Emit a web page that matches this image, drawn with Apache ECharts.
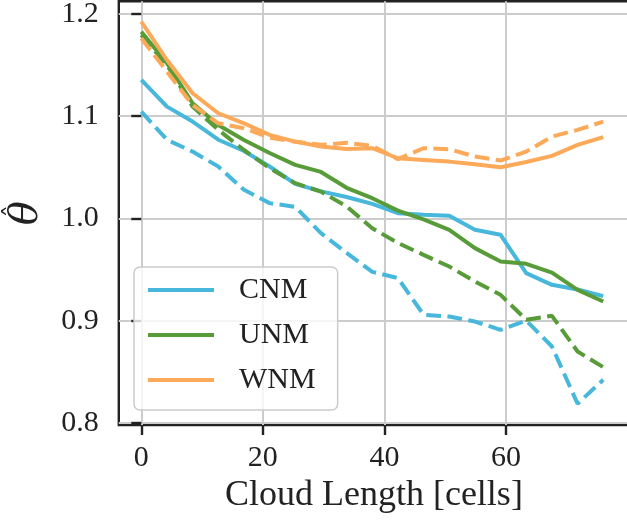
<!DOCTYPE html>
<html>
<head>
<meta charset="utf-8">
<script src="https://cdn.jsdelivr.net/npm/echarts@6/dist/echarts.min.js"></script>
<style>
  html, body { margin: 0; padding: 0; background: #fff; }
  #chart { width: 627px; height: 523px; }
</style>
</head>
<body>
<div id="chart"></div>
<script>
// cloud length sample points (cells)
const cloudLength = [0, 4.22, 8.44, 12.67, 16.89, 21.11, 25.33, 29.56, 33.78, 38.0,
  42.22, 46.44, 50.67, 54.89, 59.11, 63.33, 67.56, 71.78, 76.0];

// solid lines
const cnmSolid = [1.1355, 1.1094, 1.0948, 1.077, 1.066, 1.0508, 1.0338, 1.0265, 1.021, 1.0143,
  1.0052, 1.0036, 1.0026, 0.9889, 0.984, 0.9465, 0.9351, 0.9305, 0.924];
const unmSolid = [1.1827, 1.1518, 1.1127, 1.0915, 1.0768, 1.064, 1.0524, 1.0455, 1.030, 1.0198,
  1.0077, 0.9991, 0.9889, 0.971, 0.958, 0.9556, 0.9471, 0.9302, 0.9188];
const wnmSolid = [1.1925, 1.155, 1.1225, 1.1029, 1.0931, 1.0817, 1.0752, 1.0703, 1.068, 1.0687,
  1.0589, 1.0573, 1.0556, 1.053, 1.0501, 1.0552, 1.0612, 1.072, 1.0795];

// dashed lines
const cnmDashed = [1.1045, 1.077, 1.0654, 1.0508, 1.028, 1.015, 1.0113, 0.9856, 0.9664, 0.9478,
  0.9417, 0.9058, 0.9041, 0.8992, 0.8911, 0.9002, 0.8748, 0.8188, 0.8422];
const unmDashed = [1.1795, 1.150, 1.1094, 1.0866, 1.067, 1.0492, 1.0345, 1.0263, 1.0117, 0.9905,
  0.976, 0.9644, 0.953, 0.9383, 0.9253, 0.9009, 0.9048, 0.8699, 0.8546];
const wnmDashed = [1.1762, 1.1436, 1.111, 1.0931, 1.0883, 1.079, 1.075, 1.072, 1.074, 1.071,
  1.058, 1.0687, 1.0677, 1.0606, 1.0566, 1.0654, 1.0801, 1.0866, 1.0947];

const xTicks = [0, 20, 40, 60];
const yTicks = [0.8, 0.9, 1.0, 1.1, 1.2];
const legendNames = ['CNM', 'UNM', 'WNM'];

const colors = { CNM: '#47b7dc', UNM: '#589c3a', WNM: '#fca95a' };

const chart = echarts.init(document.getElementById('chart'));

function pairs(ys) {
  return cloudLength.map((x, i) => [x, ys[i]]);
}

function makeSeries(name, ys, color, dashed) {
  return {
    name: name,
    type: 'line',
    data: pairs(ys),
    symbol: 'none',
    animation: false,
    lineStyle: {
      color: color,
      width: 4,
      type: dashed ? [14.8, 6.4] : 'solid',
      cap: 'butt'
    },
    itemStyle: { color: color }
  };
}

const serif = '"Liberation Serif", "DejaVu Serif", serif';

const option = {
  animation: false,
  grid: {
    left: 118.8,
    top: 1.3,
    right: -2,
    bottom: 98,
    containLabel: false,
    outerBoundsMode: 'none',
    show: true,
    borderColor: '#222',
    borderWidth: 2.4,
    backgroundColor: 'transparent'
  },
  legend: {
    data: legendNames,
    orient: 'vertical',
    left: 134,
    top: 267,
    itemWidth: 66,
    // small icon height hides the legend circle under the line
    itemHeight: 3,
    itemGap: 15,
    padding: [8, 22, 15, 12],
    backgroundColor: 'rgba(255,255,255,0.8)',
    borderColor: '#cccccc',
    borderWidth: 1.5,
    borderRadius: 6,
    lineStyle: { width: 4 },
    textStyle: {
      fontFamily: serif,
      fontSize: 30,
      color: '#222',
      lineHeight: 30,
      padding: [0, 0, 0, 20]
    }
  },
  xAxis: {
    type: 'value',
    min: -3.7,
    max: 80.24,
    name: 'Cloud Length [cells]',
    nameLocation: 'middle',
    nameGap: 52,
    nameTextStyle: { fontFamily: serif, fontSize: 36, color: '#222' },
    axisLine: { show: false },
    axisTick: { show: true, customValues: xTicks, length: 10, lineStyle: { color: '#222', width: 2.4 } },
    axisLabel: { customValues: xTicks, margin: 18, fontFamily: serif, fontSize: 30, color: '#222' },
    splitLine: { show: true, lineStyle: { color: '#cccccc', width: 2 } }
  },
  yAxis: {
    type: 'value',
    min: 0.798,
    max: 1.2124,
    name: '{hat|ˆ}\n{th|θ}',
    nameLocation: 'middle',
    nameGap: 88,
    nameRotate: 90,
    nameTextStyle: {
      color: '#222',
      rich: {
        hat: { fontFamily: '"DejaVu Serif", serif', fontSize: 26, lineHeight: 16, color: '#222', padding: [0, 0, 0, 4] },
        th: { fontFamily: '"DejaVu Serif", serif', fontStyle: 'italic', fontSize: 40, lineHeight: 8, color: '#222' }
      }
    },
    axisLine: { show: false },
    axisTick: { show: true, customValues: yTicks, length: 10, lineStyle: { color: '#222', width: 2.4 } },
    axisLabel: {
      customValues: yTicks,
      margin: 20,
      fontFamily: serif,
      fontSize: 30,
      color: '#222',
      formatter: v => v.toFixed(1)
    },
    splitLine: { show: true, lineStyle: { color: '#cccccc', width: 2 } }
  },
  series: [
    makeSeries('CNM', cnmSolid, colors.CNM, false),
    makeSeries('CNM dashed', cnmDashed, colors.CNM, true),
    makeSeries('UNM', unmSolid, colors.UNM, false),
    makeSeries('UNM dashed', unmDashed, colors.UNM, true),
    makeSeries('WNM', wnmSolid, colors.WNM, false),
    makeSeries('WNM dashed', wnmDashed, colors.WNM, true)
  ]
};

chart.setOption(option);
</script>
</body>
</html>
